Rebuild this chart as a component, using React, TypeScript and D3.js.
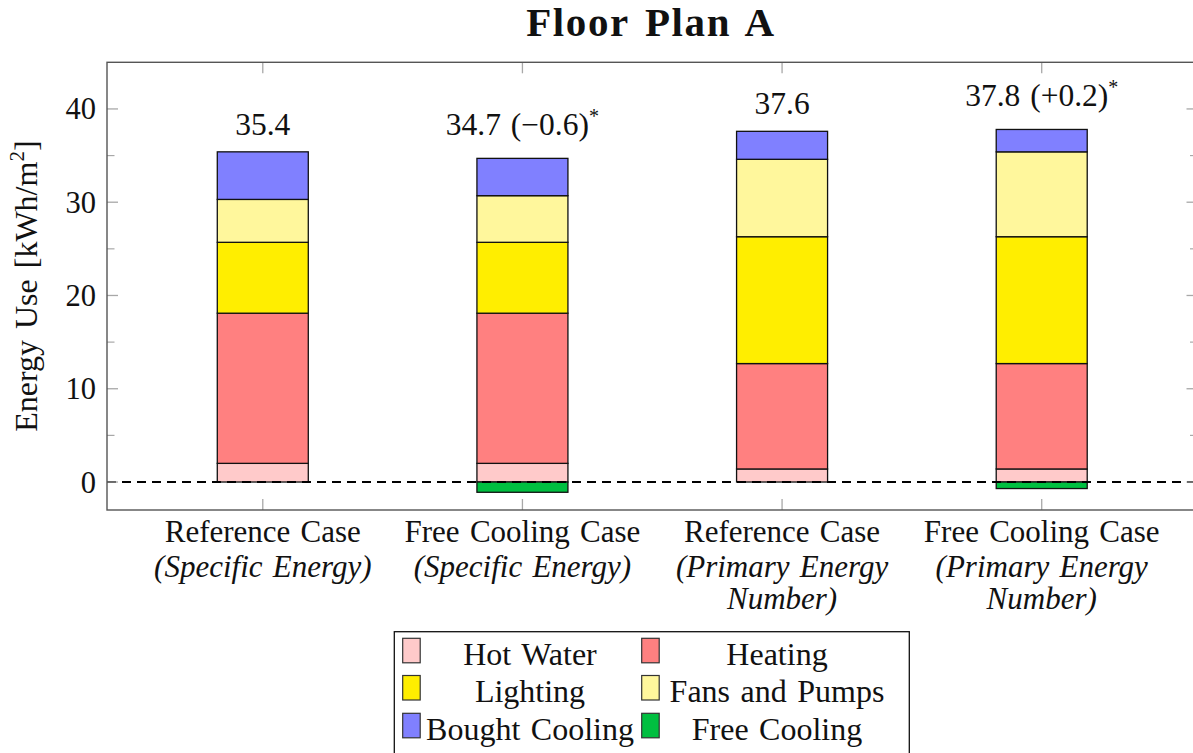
import React from "react";
import * as d3 from "d3";

// ---- data -------------------------------------------------------------
const caseNames = ["Reference Case", "Free Cooling Case", "Reference Case", "Free Cooling Case"];
const caseMetric = [
  ["(Specific Energy)"],
  ["(Specific Energy)"],
  ["(Primary Energy", "Number)"],
  ["(Primary Energy", "Number)"],
];

const hotWater = [2.0, 2.0, 1.4, 1.4];
const heating = [16.1, 16.1, 11.3, 11.3];
const lighting = [7.6, 7.6, 13.6, 13.6];
const fansAndPumps = [4.6, 5.0, 8.3, 9.1];
const boughtCooling = [5.1, 4.0, 3.0, 2.4];
const freeCooling = [0, -1.1, 0, -0.7];

// change versus the matching reference case, printed next to the total
const totalNotes = [null, "\u22120.6", null, "+0.2"];

const yTicks = [0, 10, 20, 30, 40];
const yMinorTicks = [5, 15, 25, 35];

const seriesNames = ["Hot Water", "Heating", "Lighting", "Fans and Pumps", "Bought Cooling", "Free Cooling"];
const seriesColors = ["#ffcaca", "#ff8080", "#ffee00", "#fff79c", "#8080ff", "#00bf40"];
const seriesValues = [hotWater, heating, lighting, fansAndPumps, boughtCooling, freeCooling];

// ---- layout -----------------------------------------------------------
const W = 1193;
const H = 753;
const plot = { left: 107, right: 1197.5, top: 62.3, bottom: 510 };
const FONT = "'Liberation Serif', 'Times New Roman', serif";
const barWidth = 91;
const LABEL = 31.5;
const TICK_LABEL = 30.5;

export default function App() {
  const keys = caseNames.map((_, i) => String(i));
  const x = d3.scalePoint<string>().domain(keys).range([plot.left, plot.right]).padding(0.6);
  const y = d3.scaleLinear().domain([-3, 45]).range([plot.bottom, plot.top]);

  const rows = keys.map((k, i) => {
    const r: Record<string, number | string> = { key: k };
    seriesNames.forEach((s, j) => (r[s] = seriesValues[j][i]));
    return r;
  });
  const stacked = d3
    .stack<Record<string, number | string>>()
    .keys(seriesNames)
    .value((d, key) => d[key] as number)
    .offset(d3.stackOffsetDiverging)(rows);

  const totals = keys.map((_, i) =>
    seriesValues.reduce((acc, arr) => acc + (arr[i] > 0 ? arr[i] : 0), 0)
  );
  const fmt = d3.format(".1f");

  const majorLen = 11;
  const minorLen = 7.5;
  const tickColor = "#a8a8a8";

  // legend geometry
  const legend = { left: 394.3, top: 631.7, right: 909.3, bottom: 770 };
  const legendCols = [
    { swatch: 402.7, center: 530 },
    { swatch: 641.7, center: 777 },
  ];
  const legendRowTop = [638.3, 675.5, 713.3];
  const legendBaseline = [665, 702, 740];

  return (
    <svg
      width={W}
      height={H}
      viewBox={`0 0 ${W} ${H}`}
      style={{ position: "absolute", left: 0, top: 0, background: "#fff" }}
      fontFamily={FONT}
    >
      <rect x={0} y={0} width={W} height={H} fill="#fff" />

      {/* title */}
      <text x={651} y={36} textAnchor="middle" fontSize={41} fontWeight="bold" letterSpacing={1.6} wordSpacing={4} fill="#111">
        Floor Plan A
      </text>

      {/* stacked bars */}
      {stacked.map((layer, j) => (
        <g key={layer.key}>
          {layer.map((seg, i) => {
            const y0 = y(seg[0]);
            const y1 = y(seg[1]);
            if (Math.abs(y1 - y0) < 0.01) return null;
            return (
              <rect
                key={i}
                x={(x(keys[i]) as number) - barWidth / 2}
                y={Math.min(y0, y1)}
                width={barWidth}
                height={Math.abs(y1 - y0)}
                fill={seriesColors[j]}
                stroke="#111"
                strokeWidth={1.3}
              />
            );
          })}
        </g>
      ))}

      {/* zero line */}
      <line
        x1={plot.left}
        x2={plot.right}
        y1={y(0)}
        y2={y(0)}
        stroke="#000"
        strokeWidth={2}
        strokeDasharray="9 6"
      />

      {/* totals above bars */}
      {keys.map((k, i) => {
        const note = totalNotes[i];
        const lift = note ? 23 : 17;
        return (
          <text
            key={k}
            x={x(k) as number}
            y={y(totals[i]) - lift}
            textAnchor="middle"
            fontSize={LABEL}
            wordSpacing={2}
            fill="#111"
          >
            {fmt(totals[i])}
            {note && ` (${note})`}
            {note && (
              <tspan fontSize={20} dy={-12}>
                *
              </tspan>
            )}
          </text>
        );
      })}

      {/* y ticks */}
      {yTicks.map((t) => (
        <g key={`y${t}`}>
          <line x1={plot.left} x2={plot.left + majorLen} y1={y(t)} y2={y(t)} stroke={tickColor} strokeWidth={1.3} />
          <line x1={plot.right} x2={plot.right - majorLen} y1={y(t)} y2={y(t)} stroke={tickColor} strokeWidth={1.3} />
          <text x={96} y={y(t) + 10.5} textAnchor="end" fontSize={TICK_LABEL} fill="#111">
            {t}
          </text>
        </g>
      ))}
      {yMinorTicks.map((t) => (
        <g key={`ym${t}`}>
          <line x1={plot.left} x2={plot.left + minorLen} y1={y(t)} y2={y(t)} stroke={tickColor} strokeWidth={1.2} />
          <line x1={plot.right} x2={plot.right - minorLen} y1={y(t)} y2={y(t)} stroke={tickColor} strokeWidth={1.2} />
        </g>
      ))}

      {/* x ticks and labels */}
      {keys.map((k, i) => {
        const cx = x(k) as number;
        return (
          <g key={`x${k}`}>
            <line x1={cx} x2={cx} y1={plot.bottom} y2={plot.bottom - majorLen} stroke={tickColor} strokeWidth={1.3} />
            <line x1={cx} x2={cx} y1={plot.top} y2={plot.top + majorLen} stroke={tickColor} strokeWidth={1.3} />
            <text x={cx} y={542} textAnchor="middle" fontSize={31} fill="#111" wordSpacing={2.5}>
              {caseNames[i]}
            </text>
            {caseMetric[i].map((line, li) => (
              <text
                key={li}
                x={cx}
                y={576.5 + li * 32}
                textAnchor="middle"
                fontSize={31}
                fontStyle="italic"
                fill="#111"
                wordSpacing={2.5}
              >
                {line}
              </text>
            ))}
          </g>
        );
      })}

      {/* axis frame */}
      <rect
        x={plot.left}
        y={plot.top}
        width={plot.right - plot.left}
        height={plot.bottom - plot.top}
        fill="none"
        stroke="#555"
        strokeWidth={1.4}
      />

      {/* y axis title */}
      <text
        transform={`translate(37, ${(plot.top + plot.bottom) / 2}) rotate(-90)`}
        textAnchor="middle"
        fontSize={32}
        fill="#111"
        wordSpacing={3}
      >
        Energy Use [kWh/m
        <tspan fontSize={21} dy={-13}>
          2
        </tspan>
        <tspan dy={13}>]</tspan>
      </text>

      {/* legend */}
      <rect
        x={legend.left}
        y={legend.top}
        width={legend.right - legend.left}
        height={legend.bottom - legend.top}
        fill="#fff"
        stroke="#111"
        strokeWidth={1.3}
      />
      {seriesNames.map((name, j) => {
        const row = Math.floor(j / 2);
        const col = legendCols[j % 2];
        return (
          <g key={name}>
            <rect
              x={col.swatch}
              y={legendRowTop[row]}
              width={17.5}
              height={24.5}
              fill={seriesColors[j]}
              stroke="#333"
              strokeWidth={1.2}
            />
            <text x={col.center} y={legendBaseline[row]} textAnchor="middle" fontSize={32} fill="#111" wordSpacing={2.5}>
              {name}
            </text>
          </g>
        );
      })}
    </svg>
  );
}
